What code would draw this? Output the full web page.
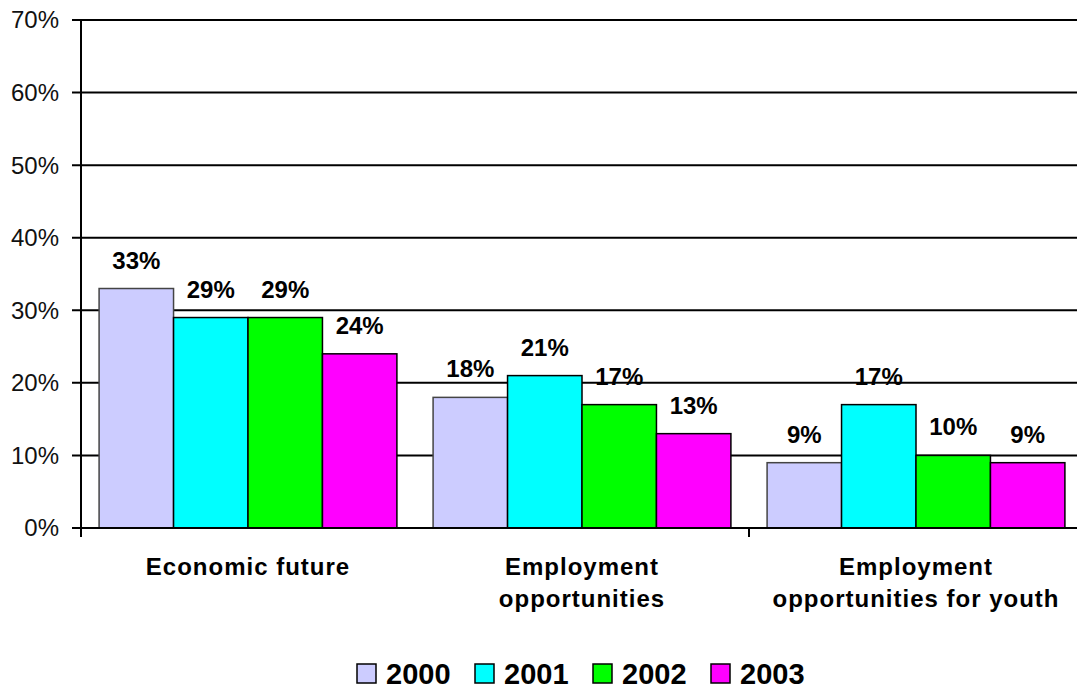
<!DOCTYPE html>
<html>
<head>
<meta charset="utf-8">
<script src="https://cdn.jsdelivr.net/npm/d3@7"></script>
<style>
  body { margin: 0; background: #fff; }
  svg text { font-family: Arial, "Liberation Sans", sans-serif; }
</style>
</head>
<body>
<div id="vis"></div>
<script>
// chart data
var categories = [
  ['Economic future'],
  ['Employment', 'opportunities'],
  ['Employment', 'opportunities for youth'],
];
var years = ['2000', '2001', '2002', '2003'];
var colors = ['#ccccff', '#00ffff', '#00ff00', '#ff00ff'];
var values = [
  [33, 29, 29, 24],
  [18, 21, 17, 13],
  [9, 17, 10, 9],
];
var yTicks = [0, 10, 20, 30, 40, 50, 60, 70];
// only the last category boundary shows a tick in the original
var xTicks = [2];

var width = 1077;
var height = 690;

var svg = d3
  .select('#vis')
  .append('svg')
  .attr('width', width)
  .attr('height', height);

var x0 = d3
  .scaleBand()
  .domain(d3.range(categories.length))
  .range([81, 1083]);

var x1 = d3
  .scaleBand()
  .domain(years)
  .range([0, x0.bandwidth()])
  .paddingOuter(0.243)
  .paddingInner(0);

var y = d3
  .scaleLinear()
  .domain([0, 70])
  .range([528, 20]);

// gridlines + y labels
svg
  .selectAll('line.grid')
  .data(yTicks)
  .enter()
  .append('line')
  .attr('class', 'grid')
  .attr('x1', 72)
  .attr('x2', width)
  .attr('y1', d => y(d))
  .attr('y2', d => y(d))
  .style('stroke', '#000')
  .style('stroke-width', 2);

svg
  .selectAll('text.ylab')
  .data(yTicks)
  .enter()
  .append('text')
  .attr('class', 'ylab')
  .attr('x', 59)
  .attr('y', d => y(d))
  .attr('dy', '0.35em')
  .attr('text-anchor', 'end')
  .style('font-size', '24px')
  .style('fill', '#111')
  .text(d => d + '%');

// bars
var groups = svg
  .selectAll('g.cat')
  .data(values)
  .enter()
  .append('g')
  .attr('class', 'cat')
  .attr('transform', (d, i) => `translate(${x0(i)}, 0)`);

groups
  .selectAll('rect')
  .data(d => d)
  .enter()
  .append('rect')
  .attr('x', (d, i) => x1(years[i]))
  .attr('y', d => y(d))
  .attr('width', x1.bandwidth())
  .attr('height', d => y(0) - y(d))
  .style('fill', (d, i) => colors[i])
  .style('stroke', (d, i) => (i == 0 ? '#444' : '#000'))
  .style('stroke-width', 1.5);

groups
  .selectAll('text.val')
  .data(d => d)
  .enter()
  .append('text')
  .attr('class', 'val')
  .attr('x', (d, i) => x1(years[i]) + x1.bandwidth() / 2)
  .attr('y', d => y(d) - 20)
  .attr('text-anchor', 'middle')
  .style('font-size', '24px')
  .style('font-weight', 'bold')
  .text(d => d + '%');

// axes lines
svg
  .append('line')
  .attr('x1', 81)
  .attr('x2', 81)
  .attr('y1', y(70))
  .attr('y2', 537)
  .style('stroke', '#000')
  .style('stroke-width', 2);

svg
  .append('line')
  .attr('x1', 72)
  .attr('x2', width)
  .attr('y1', y(0))
  .attr('y2', y(0))
  .style('stroke', '#000')
  .style('stroke-width', 2);

svg
  .selectAll('line.xtick')
  .data(xTicks)
  .enter()
  .append('line')
  .attr('class', 'xtick')
  .attr('x1', d => x0(d))
  .attr('x2', d => x0(d))
  .attr('y1', y(0))
  .attr('y2', 537)
  .style('stroke', '#000')
  .style('stroke-width', 2);

// category labels
var catLabels = svg
  .selectAll('text.cat')
  .data(categories)
  .enter()
  .append('text')
  .attr('class', 'cat')
  .attr('text-anchor', 'middle')
  .style('font-size', '24px')
  .style('font-weight', 'bold')
  .style('letter-spacing', '1px');

catLabels
  .selectAll('tspan')
  .data((d, i) => d.map(t => ({t: t, i: i})))
  .enter()
  .append('tspan')
  .attr('x', d => x0(d.i) + x0.bandwidth() / 2)
  .attr('y', (d, j) => 575 + j * 32)
  .text(d => d.t);

// legend
var legend = svg
  .selectAll('g.legend')
  .data(years)
  .enter()
  .append('g')
  .attr('class', 'legend')
  .attr('transform', (d, i) => `translate(${357 + i * 118}, 0)`);

legend
  .append('rect')
  .attr('x', 0)
  .attr('y', 664)
  .attr('width', 19)
  .attr('height', 19)
  .style('fill', (d, i) => colors[i])
  .style('stroke', '#000')
  .style('stroke-width', 1.5);

legend
  .append('text')
  .attr('x', 29)
  .attr('y', 684)
  .style('font-size', '29px')
  .style('font-weight', 'bold')
  .text(d => d);
</script>
</body>
</html>
